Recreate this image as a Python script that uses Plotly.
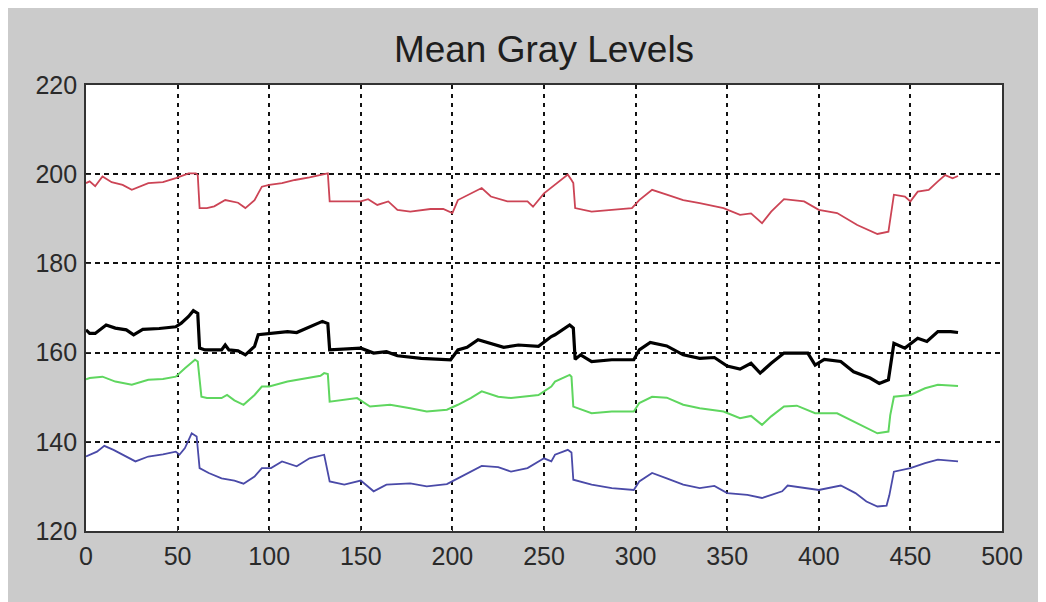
import plotly.graph_objects as go

# ---------------- data ----------------
red_x = [0, 2, 5, 9, 14, 20, 25, 30, 34, 42, 49, 56, 60, 61, 62, 66, 70, 76, 83, 87, 92, 96, 100, 107, 114, 122, 128, 132, 133,
         142, 150, 154, 159, 165, 170, 177, 188, 195, 200, 203, 210, 216, 221, 230, 241, 244, 250, 256, 263, 265, 266, 267,
         276, 287, 298, 302, 309, 317, 326, 335, 348, 357, 363, 369, 374, 381, 392, 400, 410, 421, 432, 438, 441, 447,
         450, 454, 460, 465, 469, 473, 476]
red_y = [198.0, 198.4, 197.3, 199.5, 198.2, 197.6, 196.5, 197.4, 198.0, 198.2, 199.1, 200.2, 200.2, 199.8, 192.4, 192.4, 192.8,
         194.2, 193.6, 192.4, 194.2, 197.2, 197.6, 198.0, 198.7, 199.3, 199.8, 200.2, 193.9,
         193.9, 193.9, 194.4, 193.1, 193.9, 192.0, 191.6, 192.2, 192.2, 191.3, 194.2, 195.7, 196.9, 195.0, 193.9, 193.9,
         192.7, 195.7, 197.6, 199.9, 198.7, 198.0, 192.4,
         191.6, 192.0, 192.4, 194.2, 196.5, 195.4, 194.2, 193.5, 192.4, 190.9, 191.2, 189.0, 191.6, 194.4, 193.9, 192.0,
         191.3, 188.6, 186.6, 187.1, 195.4, 195.0, 193.9, 196.1, 196.5, 198.4, 199.8, 199.1, 199.6]

black_x = [0, 2, 5, 11, 16, 22, 26, 31, 40, 49, 52, 56, 58.6, 61, 62, 65, 74, 76, 78, 83, 87, 92, 94, 100, 110, 115, 122, 129,
           132, 133, 150, 157, 164, 170, 183, 199, 203, 208, 214, 221, 228, 236, 247, 254, 256, 264, 266, 267,
           270, 276, 287, 299, 302, 308, 317, 326, 335, 343, 350, 357, 363, 368, 374, 381, 394, 398, 403, 412, 419,
           428, 433, 438, 439, 441, 447, 454, 459, 465, 472, 476]
black_y = [165.1, 164.3, 164.3, 166.2, 165.5, 165.1, 164.0, 165.2, 165.4, 165.8, 166.6, 168.1, 169.4, 168.8, 161.0, 160.6, 160.6,
           161.7, 160.6, 160.4, 159.5, 161.4, 164.0, 164.3, 164.7, 164.5, 165.8, 167.0,
           166.5, 160.6, 161.0, 159.9, 160.2, 159.3, 158.7, 158.4, 160.6, 161.2, 162.9, 162.1, 161.2, 161.7, 161.4, 163.6,
           164.0, 166.2, 165.5, 158.5,
           159.5, 158.0, 158.4, 158.4, 160.6, 162.3, 161.5, 159.5, 158.7, 158.9, 157.0, 156.3, 157.6, 155.4, 157.6, 159.9,
           159.9, 157.2, 158.5, 158.0, 155.7, 154.3, 153.1, 153.9, 157.0, 162.1, 161.0, 163.2, 162.5, 164.7, 164.7, 164.5]

green_x = [0, 2, 9, 16, 25, 34, 42, 49, 54, 59.5, 61, 63, 66, 74, 77, 81, 86, 92, 96, 100, 110, 120, 128, 130, 132, 133,
           148, 155, 166, 177, 186, 197, 203, 210, 216, 225, 232, 247, 254, 256, 264, 265, 266,
           276, 287, 299, 302, 309, 317, 326, 335, 348, 357, 363, 369, 374, 381, 388, 398, 410, 421, 432, 438, 439, 441,
           450, 458, 465, 476]
green_y = [154.0, 154.3, 154.6, 153.5, 152.8, 153.9, 154.1, 154.6, 156.5, 158.4, 158.0, 150.1, 149.8, 149.8, 150.5, 149.3, 148.3,
           150.5, 152.4, 152.4, 153.5, 154.2, 154.8, 155.4, 155.2, 149.0,
           149.8, 147.9, 148.3, 147.5, 146.8, 147.2, 148.3, 149.8, 151.3, 150.1, 149.8, 150.5, 152.4, 153.5, 155.0, 154.6,
           147.9,
           146.4, 146.8, 146.8, 148.7, 150.1, 149.9, 148.3, 147.5, 146.8, 145.3, 145.8, 143.8, 145.7, 147.9, 148.1, 146.4,
           146.4, 144.2, 141.9, 142.3, 146.0, 150.1, 150.5, 152.0, 152.8, 152.5]

blue_x = [0, 2, 6, 10, 15, 27, 34, 42, 49, 51, 54, 57.7, 60.4, 62, 67, 74, 81, 86, 92, 96, 101, 107, 115, 122, 130, 133,
          141, 150, 157, 164, 177, 186, 197, 203, 210, 216, 225, 232, 241, 250, 254, 256, 263, 265, 266,
          276, 287, 299, 302, 309, 317, 326, 335, 343, 350, 361, 369, 380, 383, 392, 400, 412, 420, 426, 432, 437,
          438.5, 441, 450, 458, 465, 476]
blue_y = [136.7, 137.1, 137.8, 139.1, 138.2, 135.6, 136.7, 137.2, 137.8, 137.1, 138.6, 141.9, 141.2, 134.1, 133.0, 131.8, 131.3,
          130.6, 132.2, 134.1, 134.1, 135.6, 134.5, 136.3, 137.1, 131.1,
          130.4, 131.3, 128.9, 130.4, 130.7, 130.0, 130.5, 131.8, 133.3, 134.6, 134.3, 133.3, 134.1, 136.3, 135.6, 137.1,
          138.2, 137.6, 131.5,
          130.4, 129.6, 129.2, 131.1, 133.0, 131.8, 130.4, 129.6, 130.1, 128.5, 128.1, 127.4, 128.9, 130.2, 129.6, 129.2,
          130.2, 128.5, 126.6, 125.5, 125.7, 128.0, 133.3, 134.1, 135.2, 136.0, 135.6]

x_ticks = [0, 50, 100, 150, 200, 250, 300, 350, 400, 450, 500]
y_ticks = [120, 140, 160, 180, 200, 220]
title_text = "Mean Gray Levels"

# ---------------- figure ----------------
# the page body adds an 8px margin, so the figure is 8px smaller than the window
W, H = 1038, 594
L, R, T, B = 78, 44, 77, 71

fig = go.Figure()
fig.add_trace(go.Scatter(x=red_x, y=red_y, mode="lines", line=dict(color="#cc4455", width=1.8), showlegend=False))
fig.add_trace(go.Scatter(x=black_x, y=black_y, mode="lines", line=dict(color="#000000", width=3.2), showlegend=False))
fig.add_trace(go.Scatter(x=green_x, y=green_y, mode="lines", line=dict(color="#5fd65f", width=2), showlegend=False))
fig.add_trace(go.Scatter(x=blue_x, y=blue_y, mode="lines", line=dict(color="#4a4aa8", width=1.8), showlegend=False))

font_family = "Liberation Sans, Arial, sans-serif"

fig.update_layout(
    width=W, height=H,
    margin=dict(l=L, r=R, t=T, b=B),
    paper_bgcolor="#cbcbcb",
    plot_bgcolor="#ffffff",
    title=dict(text=title_text, x=(L + (W - L - R) / 2) / W, xanchor="center",
               y=1 - 41 / H, yanchor="middle",
               font=dict(family=font_family, size=37, color="#1e1e1e")),
    font=dict(family=font_family, size=25, color="#2a2a2a"),
)

fig.update_xaxes(range=[0, 500], tickvals=x_ticks, ticktext=[str(v) for v in x_ticks],
                 showgrid=True, gridcolor="#111111", gridwidth=1.6, griddash="4px,5px",
                 zeroline=False, showline=True, linecolor="#333333", linewidth=1.8, mirror=True,
                 ticks="inside", ticklen=5, tickcolor="#333333", ticklabelstandoff=2,
                 tickfont=dict(size=25, color="#2a2a2a"))
fig.update_yaxes(range=[120, 220], tickvals=y_ticks, ticktext=[str(v) for v in y_ticks],
                 showgrid=True, gridcolor="#111111", gridwidth=1.6, griddash="5px,4px",
                 zeroline=False, showline=True, linecolor="#333333", linewidth=1.8, mirror=True,
                 ticks="inside", ticklen=5, tickcolor="#333333", ticklabelstandoff=2,
                 tickfont=dict(size=25, color="#2a2a2a"))

fig.write_html("out.html")
